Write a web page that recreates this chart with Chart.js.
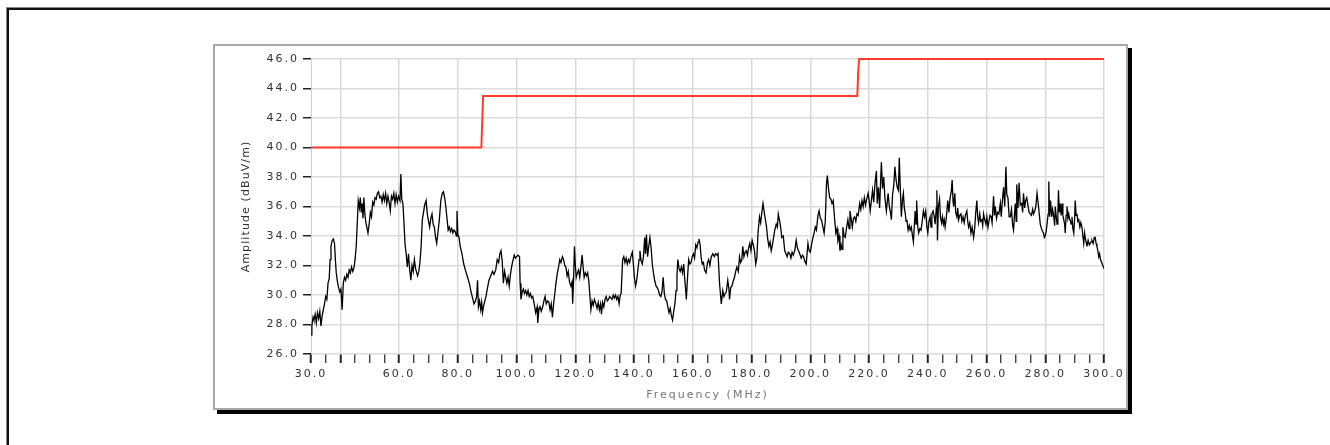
<!DOCTYPE html>
<html><head><meta charset="utf-8">
<script src="https://cdn.jsdelivr.net/npm/chart.js@4.4.1/dist/chart.umd.min.js"></script>
<style>
html,body{margin:0;padding:0;background:#fff;overflow:hidden;width:1330px;height:445px;}
#outer{position:absolute;left:7px;top:8px;width:1340px;height:460px;border-top:2px solid #111;border-left:2px solid #111;box-shadow:-1px -1px 0 #888;}
#panel{position:absolute;left:213px;top:44px;width:911px;height:362px;border:2px solid #a8a8a8;background:#fff;box-shadow:4px 4px 0 #000;}
#wrap{position:absolute;left:0;top:0;width:1330px;height:445px;}
</style></head><body>
<div id="outer"></div><div id="panel"></div>
<div id="wrap"><canvas id="c" width="1330" height="445"></canvas></div>
<script>
// ---- data ----
const limitFreqs  = [30, 88, 88.3, 88.6, 216, 216.3, 216.6, 300];
const limitLevels = [40, 40, 41.8, 43.5, 43.5, 45.0, 46.0, 46.0];

const freqMHz = [
30.0,30.3,30.7,31.0,31.4,31.8,32.2,32.6,33.0,33.4,
33.8,34.2,34.6,35.0,35.4,35.8,36.2,36.5,36.8,37.2,
37.6,38.0,38.3,38.6,39.0,39.4,39.8,40.2,40.6,41.0,
41.4,41.8,42.2,42.6,43.0,43.4,43.8,44.2,44.6,45.0,
45.4,45.8,46.1,46.5,46.8,47.1,47.4,47.7,48.0,48.3,
48.6,49.0,49.4,49.8,50.2,50.6,51.0,51.4,51.8,52.2,
52.6,53.0,53.4,53.8,54.2,54.6,55.0,55.4,55.8,56.2,
56.6,57.0,57.4,57.8,58.2,58.6,59.0,59.4,59.8,60.3,
60.6,60.9,61.3,61.6,62.0,62.4,62.8,63.2,63.6,64.0,
64.4,64.8,65.2,65.6,66.0,66.3,66.7,67.1,67.5,67.9,
68.3,68.7,69.2,69.6,70.0,70.4,70.8,71.2,71.6,72.0,
72.4,72.8,73.2,73.7,74.2,74.7,75.1,75.5,75.9,76.3,
76.7,77.1,77.5,77.9,78.3,78.7,79.1,79.5,79.7,80.0,
80.4,80.8,81.4,82.0,82.7,83.3,83.9,84.4,85.0,85.5,
86.0,86.4,86.7,87.0,87.4,87.8,88.1,88.4,88.8,89.2,
89.6,90.0,90.6,91.2,91.8,92.3,92.9,93.4,93.9,94.3,
94.7,95.1,95.5,95.9,96.3,96.7,97.1,97.5,97.9,98.3,
98.7,99.2,99.6,100.0,100.5,101.0,101.2,101.5,101.9,102.3,
102.7,103.1,103.5,103.9,104.3,104.7,105.1,105.5,106.0,106.5,
107.0,107.2,107.6,108.0,108.4,108.9,109.3,109.7,110.1,110.6,
111.0,111.4,111.8,112.2,112.6,112.9,113.4,113.9,114.3,114.7,
115.1,115.6,116.0,116.4,116.8,117.2,117.6,118.0,118.5,118.9,
119.1,119.4,119.7,120.0,120.3,120.7,121.1,121.5,121.9,122.3,
122.7,123.0,123.4,123.8,124.2,124.6,124.9,125.3,125.7,126.1,
126.5,127.0,127.4,127.8,128.2,128.6,128.9,129.3,129.7,130.1,
130.5,130.9,131.3,131.7,132.1,132.5,132.9,133.3,133.7,134.1,
134.5,134.9,135.3,135.6,136.1,136.5,136.9,137.3,137.7,138.1,
138.5,138.9,139.4,139.8,140.1,140.5,140.9,141.3,141.7,142.0,
142.4,142.8,143.2,143.6,143.9,144.2,144.6,145.0,145.4,145.8,
146.2,146.6,147.0,147.5,147.9,148.3,148.7,149.1,149.5,149.9,
150.3,150.7,151.1,151.5,151.9,152.3,152.7,153.1,153.5,153.9,
154.3,154.6,154.9,155.3,155.7,156.1,156.5,156.9,157.2,157.5,
157.8,158.2,158.6,159.0,159.4,159.8,160.2,160.6,161.0,161.4,
161.8,162.1,162.5,162.8,163.2,163.6,164.0,164.5,165.0,165.4,
165.8,166.3,166.8,167.3,167.8,168.3,168.6,169.1,169.7,170.2,
170.6,171.0,171.4,171.9,172.3,172.5,172.9,173.3,173.7,174.2,
174.6,175.0,175.5,175.9,176.3,176.7,177.0,177.4,177.8,178.2,
178.6,179.0,179.4,179.8,180.2,180.6,181.0,181.4,181.8,182.2,
182.7,183.1,183.5,183.9,184.4,184.8,185.1,185.5,185.9,186.3,
186.7,187.1,187.5,187.9,188.4,188.8,189.1,189.5,189.9,190.3,
190.8,191.3,191.7,192.1,192.5,193.0,193.4,193.8,194.2,194.7,
195.2,195.6,196.0,196.4,196.9,197.3,197.7,198.1,198.6,199.2,
199.6,200.0,200.5,200.9,201.3,201.7,202.1,202.6,203.0,203.4,
203.8,204.3,204.7,205.1,205.5,205.8,206.2,206.6,207.0,207.4,
207.8,208.3,208.7,209.1,209.4,209.8,210.1,210.5,210.8,211.1,
211.5,211.9,212.3,212.8,213.2,213.5,213.9,214.3,214.7,215.1,
215.5,215.9,216.3,216.8,217.2,217.6,218.0,218.4,218.8,219.2,
219.7,220.1,220.4,220.8,221.2,221.6,222.0,222.5,222.8,223.2,
223.6,224.0,224.2,224.6,225.0,225.4,225.9,226.3,226.5,226.9,
227.3,227.6,228.0,228.4,228.8,229.2,229.6,230.0,230.3,230.6,
231.0,231.4,231.7,232.0,232.3,232.6,232.9,233.3,233.7,234.0,
234.4,234.8,235.1,235.4,235.7,236.0,236.2,236.6,236.9,237.3,
237.7,238.1,238.5,238.9,239.3,239.7,240.0,240.4,240.8,241.1,
241.4,241.8,242.2,242.5,242.9,243.1,243.3,243.6,244.0,244.3,
244.7,245.0,245.3,245.6,245.9,246.3,246.8,247.2,247.6,248.0,
248.3,248.6,248.8,249.2,249.5,249.9,250.2,250.5,250.9,251.3,
251.6,252.0,252.4,252.8,253.3,253.6,253.9,254.3,254.7,255.1,
255.6,256.0,256.3,256.7,257.0,257.3,257.7,258.0,258.4,258.7,
259.0,259.4,259.8,260.1,260.5,260.8,261.2,261.6,261.9,262.4,
262.7,263.0,263.4,263.8,264.2,264.7,265.0,265.4,265.8,266.2,
266.6,266.9,267.3,267.7,268.1,268.5,268.9,269.2,269.5,269.8,
270.1,270.3,270.7,271.1,271.5,272.0,272.3,272.6,273.0,273.3,
273.7,274.1,274.5,274.9,275.3,275.7,276.0,276.4,276.8,277.2,
277.6,278.0,278.3,278.7,279.1,279.4,279.7,280.0,280.3,280.6,
281.0,281.2,281.5,281.8,282.2,282.5,282.9,283.2,283.4,283.7,
284.0,284.3,284.5,284.8,285.1,285.4,285.7,286.0,286.3,286.6,
286.8,287.1,287.4,287.7,288.0,288.3,288.5,288.8,289.1,289.4,
289.7,290.0,290.2,290.5,290.8,291.1,291.4,291.8,292.1,292.5,
292.8,293.1,293.4,293.6,293.9,294.2,294.6,295.0,295.3,295.6,
295.9,296.3,296.7,297.0,297.3,297.6,297.9,298.2,298.5,298.8,
299.2,299.6,300.0
];
const amplitude = [
27.3,27.9,28.5,28.3,28.7,28.1,28.8,28.4,28.9,27.9,
28.6,29.0,29.4,29.9,29.7,30.8,31.1,32.4,33.3,33.7,
33.8,33.5,32.4,31.5,30.9,30.5,30.2,30.4,29.0,30.8,
31.2,31.0,31.4,31.2,31.7,31.5,31.9,31.6,31.8,32.4,
33.3,35.1,36.4,35.9,36.6,35.6,36.2,35.2,36.6,35.6,
35.0,34.6,34.2,34.8,35.6,35.3,36.3,36.1,36.6,36.5,
36.9,37.0,36.6,36.7,36.3,36.8,36.4,36.9,36.2,36.7,
36.3,35.7,36.7,36.5,36.9,36.2,36.8,36.3,36.7,36.4,
38.2,36.5,36.2,35.1,33.5,32.8,31.9,32.8,31.7,31.0,
32.0,31.6,32.4,31.8,31.5,31.3,31.6,32.2,33.3,35.1,
35.6,36.1,36.4,35.5,35.0,34.6,35.2,35.5,34.8,34.6,
33.9,33.5,34.2,35.1,36.4,36.9,37.0,36.6,36.0,35.2,
34.4,34.6,34.3,34.5,34.2,34.4,34.3,34.0,35.7,34.1,
33.9,33.3,32.8,32.1,31.6,31.2,30.8,30.3,29.8,29.4,
29.6,29.9,31.0,29.2,29.6,29.0,29.5,28.8,29.3,29.6,
29.9,30.4,31.0,31.3,31.6,31.4,31.7,32.4,32.2,32.8,
33.0,32.3,30.8,31.6,31.2,30.8,31.2,30.6,31.4,31.9,
32.3,32.7,32.5,32.6,32.7,32.6,30.8,29.7,30.2,30.4,
30.1,30.3,30.0,30.3,29.9,30.1,29.8,29.9,29.4,28.8,
29.2,28.1,29.0,29.2,28.9,29.2,29.6,29.9,29.4,29.6,
29.5,29.0,29.4,28.5,29.4,29.9,30.8,31.5,31.9,32.4,
32.2,32.6,32.4,32.0,31.9,31.3,31.6,30.9,30.6,30.9,
29.4,31.0,33.3,32.0,31.2,31.5,31.7,31.2,31.9,32.7,
31.8,31.2,31.5,31.3,31.5,30.9,30.1,29.0,29.6,29.3,
29.7,29.4,29.1,29.5,29.0,29.4,28.7,29.5,29.2,29.7,
29.9,29.6,29.7,29.9,29.8,29.7,30.0,29.8,30.0,29.7,
29.9,29.4,30.0,30.1,32.4,32.6,32.2,32.5,32.1,32.4,
32.2,32.6,32.9,32.0,31.2,30.6,31.0,31.7,32.4,33.0,
32.3,32.1,32.6,33.9,32.8,34.1,32.6,33.3,33.9,33.2,
32.1,31.5,31.0,30.6,30.5,30.3,30.0,29.9,30.2,31.2,
30.1,29.7,29.6,29.2,28.8,29.1,28.6,28.3,28.9,29.4,
30.3,31.3,32.4,31.8,31.6,31.9,31.5,32.1,31.2,30.5,
29.7,31.2,32.4,32.1,32.2,32.6,32.8,32.5,33.4,33.2,
33.6,33.8,33.4,32.6,32.1,32.2,31.7,31.5,32.2,32.4,
32.0,32.6,32.8,32.6,32.8,32.7,32.8,30.8,29.4,30.3,
29.9,30.1,30.2,31.0,30.4,29.7,30.5,30.6,30.9,31.2,
31.6,31.9,31.6,32.6,32.2,32.4,33.3,32.6,32.9,33.0,
32.7,33.2,33.5,33.0,33.7,33.4,33.0,32.1,32.5,34.2,
35.3,34.9,35.6,36.2,35.5,35.0,34.6,33.8,33.3,33.6,
33.0,33.4,33.9,34.4,34.8,34.6,35.5,35.1,34.6,33.9,
34.0,33.0,32.8,32.6,32.9,32.8,32.5,32.9,32.7,33.0,
33.7,33.2,33.0,32.8,32.5,32.7,32.6,32.3,32.1,33.5,
33.0,32.9,33.5,33.9,34.2,34.6,34.4,35.4,35.7,35.2,
35.1,34.6,34.2,35.0,37.5,38.1,37.2,36.6,36.5,36.2,
36.4,35.1,34.2,34.5,33.7,34.0,33.0,33.4,33.1,34.6,
34.0,33.9,34.5,35.1,34.5,35.7,35.2,34.6,35.2,35.3,
35.0,35.5,35.4,36.2,35.8,36.4,36.0,36.6,36.1,36.5,
36.9,36.3,35.7,36.4,37.1,36.3,37.5,38.4,36.2,37.3,
35.9,38.0,39.0,37.2,38.0,36.6,35.7,36.5,36.9,36.0,
35.6,35.1,36.8,37.4,38.7,37.8,37.3,37.1,39.3,37.5,
35.3,36.5,36.9,35.9,35.6,35.0,35.1,34.4,34.7,34.4,
34.6,34.0,33.6,34.6,35.7,34.8,36.4,34.6,34.2,34.5,
34.4,35.0,35.7,35.3,35.7,34.6,34.2,35.0,35.3,34.6,
35.5,35.7,35.3,34.8,35.9,37.1,33.7,36.0,36.5,35.3,
34.9,35.3,34.8,35.1,34.6,35.2,36.4,35.6,36.6,37.0,
37.8,36.4,36.0,36.9,35.6,35.3,35.9,35.1,35.4,35.5,
35.0,35.3,34.9,35.4,35.7,35.0,34.6,34.9,34.2,34.6,
33.9,34.6,35.5,36.4,35.3,34.9,35.5,35.0,35.1,34.7,
35.5,35.1,34.8,35.3,34.6,35.0,35.4,35.3,34.9,36.7,
35.4,36.0,35.2,35.6,35.5,36.2,35.3,36.4,37.3,36.0,
38.7,36.8,36.6,35.3,35.3,35.8,34.7,34.4,35.4,36.2,
35.0,37.5,35.9,37.6,36.1,36.2,35.6,36.9,35.9,36.4,
36.6,36.1,35.6,35.5,35.4,35.8,35.5,35.7,36.0,36.9,
36.2,35.4,34.8,34.5,34.3,34.2,33.9,34.0,34.3,34.8,
35.5,37.7,35.3,36.4,35.3,35.8,35.3,34.7,36.0,35.4,
34.8,35.6,37.1,35.6,36.2,35.4,36.2,35.4,35.1,34.8,
34.2,35.4,36.0,35.2,35.5,35.1,35.1,34.8,35.3,34.5,
34.2,35.2,36.4,35.4,35.5,35.0,35.1,34.6,34.9,34.6,
34.0,33.5,34.2,33.9,33.6,33.3,33.7,33.4,33.5,33.6,
33.7,33.5,33.9,33.9,33.5,33.3,33.0,32.6,32.8,32.4,
32.2,32.0,31.8
];

const yTicks = [26, 28, 30, 32, 34, 36, 38, 40, 42, 44, 46];
const xTickValues = [30,35,40,45,50,55,60,65,70,75,80,85,90,95,100,105,110,115,120,125,130,135,140,145,150,155,160,165,170,175,180,185,190,195,200,205,210,215,220,225,230,235,240,245,250,255,260,265,270,275,280,285,290,295,300];
const xLabelValues = [30,60,80,100,120,140,160,180,200,220,240,260,280,300];
const xGridValues  = [40,60,80,100,120,140,160,180,200,220,240,260,280,300];

const measured = freqMHz.slice(0, Math.min(freqMHz.length, amplitude.length)).map((f, i) => ({x: f, y: amplitude[i]}));
const limit = limitFreqs.map((f, i) => ({x: f, y: limitLevels[i]}));

Chart.defaults.font.family = "'DejaVu Sans', Verdana, sans-serif";
Chart.defaults.font.size = 11;

const spacing = {
  id: 'spacing',
  beforeDraw(c) { c.ctx.letterSpacing = '2px'; },
  afterDraw(c) { c.ctx.letterSpacing = '0px'; }
};

function tighterTitle(s) {
  if (s._tightTitle) return;
  s._tightTitle = true;
  const orig = s.drawTitle.bind(s);
  s.drawTitle = function () {
    const ctx = this.ctx;
    const prev = ctx.letterSpacing;
    ctx.letterSpacing = '1.1px';
    orig();
    ctx.letterSpacing = prev;
  };
}

new Chart(document.getElementById('c'), {
  type: 'line',
  data: {
    datasets: [
      {label: 'Limit', data: limit, borderColor: '#ff3b2c', borderWidth: 2, pointRadius: 0, tension: 0, clip: 4},
      {label: 'Amplitude', data: measured, borderColor: '#000', borderWidth: 1.3, pointRadius: 0, tension: 0}
    ]
  },
  options: {
    responsive: false,
    animation: false,
    events: [],
    layout: {padding: {left: 240, right: 226, top: 59, bottom: 43}},
    plugins: {legend: {display: false}, tooltip: {enabled: false}},
    scales: {
      x: {
        type: 'linear', min: 30, max: 300,
        afterFit(s) { s.height = 48; },
        afterBuildTicks(s) { s.ticks = xTickValues.map(v => ({value: v})); },
        ticks: {autoSkip: false, maxRotation: 0, color: '#333', padding: 5,
          callback: v => xLabelValues.includes(v) ? v.toFixed(1) : ''},
        grid: {
          color: c => (c.tick && xGridValues.includes(c.tick.value)) ? '#d9d9d9' : 'rgba(0,0,0,0)',
          lineWidth: 1.5, tickColor: '#222', tickLength: 9,
          tickWidth: c => (c.tick && (c.tick.value % 20 === 0 || c.tick.value === 30)) ? 2 : 1.2
        },
        border: {display: false},
        title: {display: true, text: 'Frequency (MHz)', color: '#777', padding: 0}
      },
      y: {
        min: 26, max: 46,
        afterFit(s) { s.width = 71; tighterTitle(s); },
        afterBuildTicks(s) { s.ticks = yTicks.map(v => ({value: v})); },
        ticks: {color: '#333', padding: 4, callback: v => v.toFixed(1)},
        grid: {color: '#dcdcdc', lineWidth: 1.5, tickColor: '#222', tickLength: 8, tickWidth: 1.5},
        border: {color: '#d0d0d0', width: 1},
        title: {display: true, text: 'Amplitude (dBuV/m)', color: '#333', padding: 0}
      }
    }
  },
  plugins: [spacing]
});
</script>
</body></html>
